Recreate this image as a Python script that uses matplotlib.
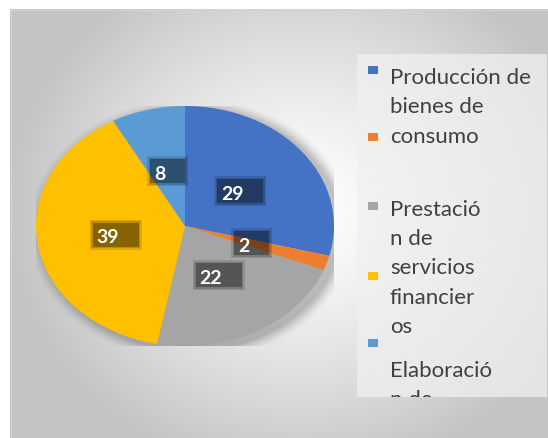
import numpy as np
import matplotlib
matplotlib.use("Agg")
import matplotlib.pyplot as plt
from matplotlib.patches import Rectangle, Ellipse
from matplotlib.transforms import Bbox, TransformedBbox

# ---- data ----
values = [29, 2, 22, 39, 8]
colors = ["#4472C4", "#ED7D31", "#A5A5A5", "#FFC000", "#5B9BD5"]
legend_lines = ["Producción de", "bienes de", "consumo", "Prestació", "n de",
                "servicios", "financier", "os", "Elaboració", "n de"]

W, H = 548, 438
fig = plt.figure(figsize=(W / 100, H / 100), dpi=100)
fig.patch.set_facecolor("white")

# ---- background gradient (pixel coords, y from top) ----
bg = fig.add_axes([0, 0, 1, 1])
bg.set_xlim(0, W)
bg.set_ylim(H, 0)
bg.axis("off")
yy, xx = np.mgrid[0:H, 0:W]
d = np.sqrt(((xx - 300) / 330.0) ** 2 + ((yy - 210) / 300.0) ** 2)
g = np.clip(1.0 - 0.27 * d ** 1.3, 0.77, 1.0)
img = np.dstack([g, g, g])
img[:9, :, :] = 1.0
img[:, :10, :] = 1.0
bg.imshow(img, extent=(0, W, H, 0), interpolation="bilinear", zorder=0)
bg.plot([10, W], [9.5, 9.5], color="#d2d2d2", lw=1, zorder=1)
bg.plot([10.5, 10.5], [9, H], color="#d2d2d2", lw=1, zorder=1)

# legend panel
bg.add_patch(Rectangle((357, 54), 190, 343, facecolor="#f0f0f0", alpha=0.75,
                       edgecolor="none", zorder=2))

# ---- pie ----
cx0, cy0, rx, ry = 36, 106, 298, 240  # left, top, width, height in px
ax = fig.add_axes([cx0 / W, (H - cy0 - ry) / H, rx / W, ry / H])
# soft shadow
for i, a in enumerate(np.linspace(0.05, 0.012, 8)):
    s = 1.0 + 0.012 * (i + 1)
    ax.add_patch(Ellipse((0.04, -0.03), 2 * s, 2 * s, facecolor="black",
                         alpha=a, edgecolor="none", zorder=0))
wedges, _ = ax.pie(values, colors=colors, startangle=90, counterclock=False,
                   wedgeprops=dict(linewidth=0))
for w in wedges:
    w.set_zorder(2)
ax.set_aspect("auto")
ax.set_xlim(-1, 1)
ax.set_ylim(-1, 1)
ax.axis("off")

pxx = 2.0 / rx  # data units per pixel (x)
pxy = 2.0 / ry  # data units per pixel (y)
total = float(sum(values))
cum = 0.0
for v in values:
    mid = 90 - 360 * (cum + v / 2) / total
    cum += v
    r = 0.47
    x = r * np.cos(np.radians(mid))
    y = r * np.sin(np.radians(mid))
    txt = str(v)
    bw = (24 + 11 * len(txt)) * pxx
    bh = 24 * pxy
    for k, al in [(3, 0.12), (1.5, 0.15), (0, 0.3)]:
        ax.add_patch(Rectangle((x - bw / 2 - k * pxx, y - bh / 2 - k * pxy),
                               bw + 2 * k * pxx, bh + 2 * k * pxy,
                               facecolor="black", alpha=al, edgecolor="none",
                               zorder=3))
    ax.text(x - bw / 2 + 4 * pxx, y - 3 * pxy, txt, color="white",
            fontsize=14, family="Lato", fontweight="bold",
            ha="left", va="center", zorder=4)

# ---- legend ----
marker_y = [66, 133, 202, 272, 339]
for c, my in zip(colors, marker_y):
    bg.add_patch(Rectangle((368, my), 10, 8, facecolor=c, edgecolor="none",
                           zorder=3))
baselines = [84, 113, 143, 216, 245, 274, 304, 333, 377, 406]
clipbox = TransformedBbox(Bbox([[357, 54], [547, 397]]), bg.transData)
for t, b in zip(legend_lines, baselines):
    tx = bg.text(390, b, t, fontsize=16, family="Lato", color="#404040",
                 ha="left", va="baseline", zorder=4)
    tx.set_clip_on(True)
    tx.set_clip_box(clipbox)

fig.savefig("out.png", dpi=100)
